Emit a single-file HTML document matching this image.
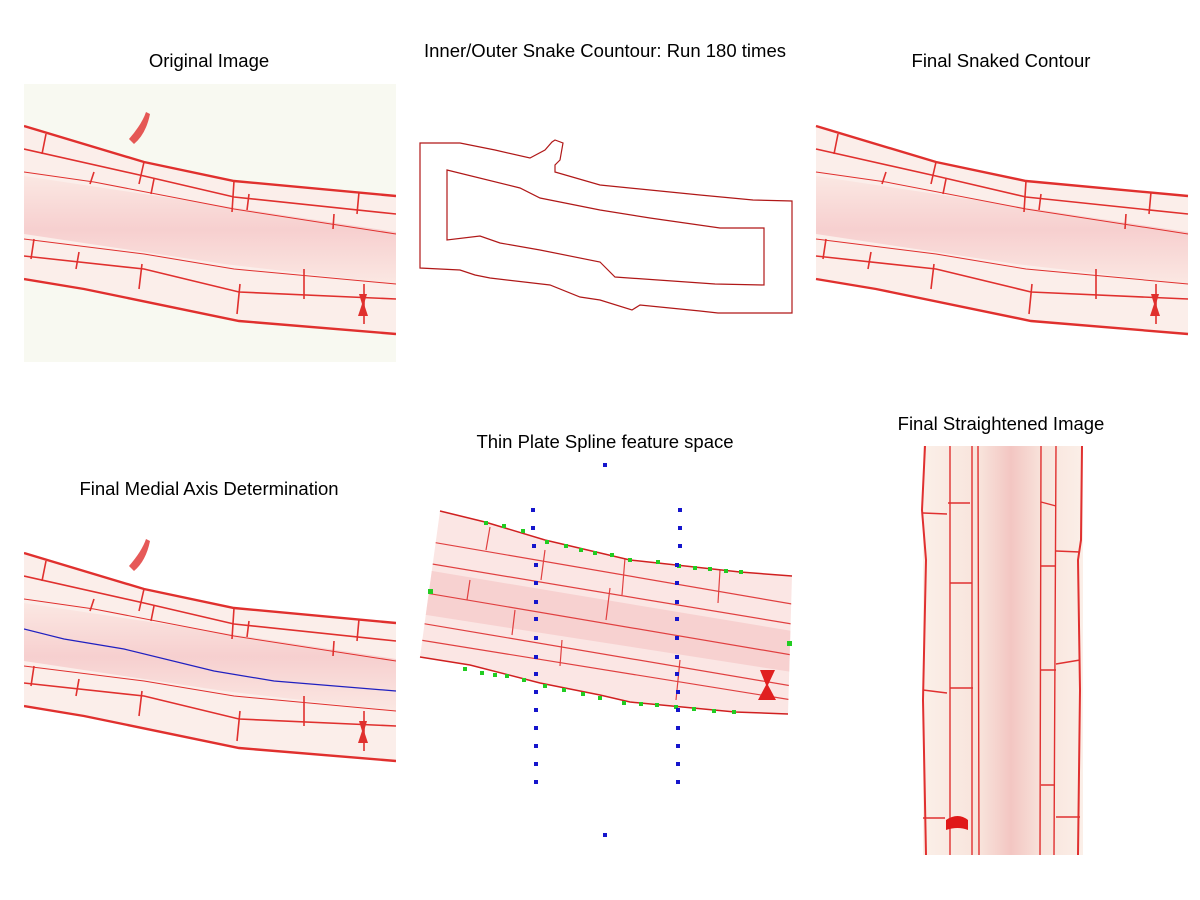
<!DOCTYPE html>
<html><head><meta charset="utf-8"><style>
html,body{margin:0;padding:0;background:#fff;}
svg{display:block}
text{font-family:"Liberation Sans",sans-serif;font-size:18.5px;fill:#000;text-anchor:middle}
</style></head><body>
<svg width="1200" height="900" viewBox="0 0 1200 900" xmlns="http://www.w3.org/2000/svg">
<defs>
<linearGradient id="core" x1="0" y1="0" x2="0" y2="1">
<stop offset="0" stop-color="#fbe7e2"/><stop offset="0.5" stop-color="#f6cccc"/><stop offset="1" stop-color="#fbe7e2"/>
</linearGradient>
<g id="root">
<path d="M0,42 L120,78 L210,97 L372,112 L372,250 L215,237 L60,205 L0,195Z" fill="#fbeeea"/>
<path d="M0,92 L120,110 L372,148 L372,200 L200,180 L0,150Z" fill="url(#core)" opacity="0.9"/>
<g fill="none" stroke="#e0302e" stroke-width="1.6">
<path d="M0,42 L120,78 L210,97 L372,112" stroke-width="2.4"/>
<path d="M0,195 L60,205 L215,237 L372,250" stroke-width="2.4"/>
<path d="M0,65 L120,92 L210,113 L372,130"/>
<path d="M0,88 L70,98 L210,125 L372,150" stroke-width="1"/>
<path d="M0,155 L120,170 L210,185 L372,200" stroke-width="1"/>
<path d="M0,172 L120,185 L215,208 L372,215"/>
<path d="M22,50 L18,70 M120,78 L115,100 M210,97 L208,128 M335,108 L333,130 M70,88 L66,100 M130,95 L127,110 M310,130 L309,145 M10,155 L7,175 M55,168 L52,185 M118,180 L115,205 M216,200 L213,230 M340,200 L340,240 M225,110 L223,126 M280,185 L280,215"/>
</g>
<path d="M335,210 L343,210 L340,220 L344,232 L334,232 L338,220Z" fill="#e0302e"/>
</g>
<clipPath id="c1"><rect x="0" y="0" width="372" height="278"/></clipPath>
</defs>

<text x="209" y="67">Original Image</text>
<text x="605" y="57">Inner/Outer Snake Countour: Run 180 times</text>
<text x="1001" y="67">Final Snaked Contour</text>
<text x="209" y="495">Final Medial Axis Determination</text>
<text x="605" y="448">Thin Plate Spline feature space</text>
<text x="1001" y="430">Final Straightened Image</text>

<!-- Panel 1 -->
<g transform="translate(24,84)" clip-path="url(#c1)">
<rect width="372" height="278" fill="#f8f9f1"/>
<use href="#root"/>
<path d="M105,55 Q118,40 122,28 L126,30 Q122,50 110,60Z" fill="#e0302e" opacity="0.8"/>
</g>

<!-- Panel 2 -->
<g fill="none" stroke="#b01818" stroke-width="1.2">
<path d="M420,143 L460,143 L495,150 L530,158 L545,150 L552,142 L555,140 L563,143 L560,160 L555,165 L555,172 L600,185 L650,190 L700,195 L753,200 L792,201 L792,313 L718,313 L700,311 L640,305 L632,310 L600,300 L580,297 L550,285 L490,278 L475,275 L460,270 L420,268 Z"/>
<path d="M447,170 L520,188 L540,198 L600,210 L650,218 L720,228 L764,228 L764,285 L715,284 L615,277 L600,262 L540,250 L500,243 L480,236 L447,240 Z"/>
</g>

<!-- Panel 3 -->
<g transform="translate(816,84)">
<use href="#root"/>
</g>

<!-- Panel 4 -->
<g transform="translate(24,511)" clip-path="url(#c1)">
<rect width="372" height="278" fill="#fff"/>
<use href="#root"/>
<path d="M105,55 Q118,40 122,28 L126,30 Q122,50 110,60Z" fill="#e0302e" opacity="0.8"/>
<path d="M0,118 L40,128 L100,138 L190,160 L250,170 L372,180" fill="none" stroke="#2020c0" stroke-width="1.2"/>
</g>

<!-- Panel 5 -->
<clipPath id="c5"><path d="M440,511 L485,522 L545,540 L630,560 L740,572 L792,576 L788,714 L735,712 L630,702 L600,695 L540,683 L470,665 L420,657Z"/></clipPath>
<g clip-path="url(#c5)">
<rect x="415" y="505" width="380" height="215" fill="#fbe6e4"/>
<path d="M420,569 L792,631 L792,672 L420,614Z" fill="#f5c8c8" opacity="0.7"/>
<g fill="none" stroke="#e04040" stroke-width="1.2">
<path d="M420,540 L792,604 M420,562 L792,624 M420,592 L792,655 M420,623 L792,686 M420,640 L792,700"/>
<path d="M490,527 L486,550 M625,558 L622,595 M720,570 L718,603 M545,550 L541,580 M610,588 L606,620 M470,580 L467,600 M515,610 L512,635 M562,640 L560,666 M680,660 L676,700"/>
</g>
<path d="M760,670 L775,670 L768,685 L776,700 L758,700 L766,685Z" fill="#e02020"/>
</g>
<path d="M440,511 L485,522 L545,540 L630,560 L740,572 L792,576 M788,714 L735,712 L630,702 L600,695 L540,683 L470,665 L420,657" fill="none" stroke="#d02020" stroke-width="1.5"/>
<g fill="#22cc22">
<rect x="484" y="521" width="4" height="4"/><rect x="502" y="524" width="4" height="4"/><rect x="521" y="529" width="4" height="4"/><rect x="545" y="540" width="4" height="4"/><rect x="564" y="544" width="4" height="4"/><rect x="579" y="548" width="4" height="4"/><rect x="593" y="551" width="4" height="4"/><rect x="610" y="553" width="4" height="4"/><rect x="628" y="558" width="4" height="4"/><rect x="656" y="560" width="4" height="4"/><rect x="677" y="564" width="4" height="4"/><rect x="693" y="566" width="4" height="4"/><rect x="708" y="567" width="4" height="4"/><rect x="724" y="569" width="4" height="4"/><rect x="739" y="570" width="4" height="4"/>
<rect x="463" y="667" width="4" height="4"/><rect x="480" y="671" width="4" height="4"/><rect x="493" y="673" width="4" height="4"/><rect x="505" y="674" width="4" height="4"/><rect x="522" y="678" width="4" height="4"/><rect x="543" y="684" width="4" height="4"/><rect x="562" y="688" width="4" height="4"/><rect x="581" y="692" width="4" height="4"/><rect x="598" y="696" width="4" height="4"/><rect x="622" y="701" width="4" height="4"/><rect x="639" y="702" width="4" height="4"/><rect x="655" y="703" width="4" height="4"/><rect x="674" y="705" width="4" height="4"/><rect x="692" y="707" width="4" height="4"/><rect x="712" y="709" width="4" height="4"/><rect x="732" y="710" width="4" height="4"/>
<rect x="428" y="589" width="5" height="5"/><rect x="787" y="641" width="5" height="5"/>
</g>
<g fill="#1515cc">
<rect x="603" y="463" width="4" height="4"/><rect x="603" y="833" width="4" height="4"/>
<rect x="531" y="508" width="4" height="4"/><rect x="531" y="526" width="4" height="4"/><rect x="532" y="544" width="4" height="4"/><rect x="534" y="563" width="4" height="4"/><rect x="534" y="581" width="4" height="4"/><rect x="534" y="600" width="4" height="4"/><rect x="534" y="617" width="4" height="4"/><rect x="534" y="636" width="4" height="4"/><rect x="534" y="655" width="4" height="4"/><rect x="534" y="672" width="4" height="4"/><rect x="534" y="690" width="4" height="4"/><rect x="534" y="708" width="4" height="4"/><rect x="534" y="726" width="4" height="4"/><rect x="534" y="744" width="4" height="4"/><rect x="534" y="762" width="4" height="4"/><rect x="534" y="780" width="4" height="4"/>
<rect x="678" y="508" width="4" height="4"/><rect x="678" y="526" width="4" height="4"/><rect x="678" y="544" width="4" height="4"/><rect x="675" y="563" width="4" height="4"/><rect x="675" y="581" width="4" height="4"/><rect x="675" y="600" width="4" height="4"/><rect x="675" y="617" width="4" height="4"/><rect x="675" y="636" width="4" height="4"/><rect x="675" y="655" width="4" height="4"/><rect x="675" y="672" width="4" height="4"/><rect x="676" y="690" width="4" height="4"/><rect x="676" y="708" width="4" height="4"/><rect x="676" y="726" width="4" height="4"/><rect x="676" y="744" width="4" height="4"/><rect x="676" y="762" width="4" height="4"/><rect x="676" y="780" width="4" height="4"/>
</g>

<!-- Panel 6 -->
<linearGradient id="vg" x1="0" y1="0" x2="1" y2="0">
<stop offset="0" stop-color="#fbefe8"/><stop offset="0.35" stop-color="#f8e4dc"/><stop offset="0.55" stop-color="#f3c6c2"/><stop offset="0.75" stop-color="#f8e4dc"/><stop offset="1" stop-color="#fbefe8"/>
</linearGradient>
<rect x="923" y="446" width="160" height="409" fill="url(#vg)"/>
<g fill="none" stroke="#e03030" stroke-width="1.4">
<path d="M925,446 L922,510 L926,560 L923,700 L926,855" stroke-width="2"/>
<path d="M1082,446 L1081,540 L1078,560 L1080,690 L1078,855" stroke-width="2"/>
<path d="M950,446 L950,855 M972,446 L972,855 M978,446 L979,855 M1041,446 L1040,855 M1056,446 L1054,855"/>
<path d="M923,513 L947,514 M948,503 L970,503 M950,583 L972,583 M923,690 L947,693 M950,688 L973,688 M1041,502 L1056,506 M1056,551 L1080,552 M1041,566 L1056,566 M1041,670 L1056,670 M1056,664 L1080,660 M1041,785 L1055,785 M1056,817 L1080,817 M923,818 L945,818"/>
</g>
<path d="M946,820 Q958,812 968,820 L968,830 Q958,826 946,830Z" fill="#e01818"/>
</svg>
</body></html>
